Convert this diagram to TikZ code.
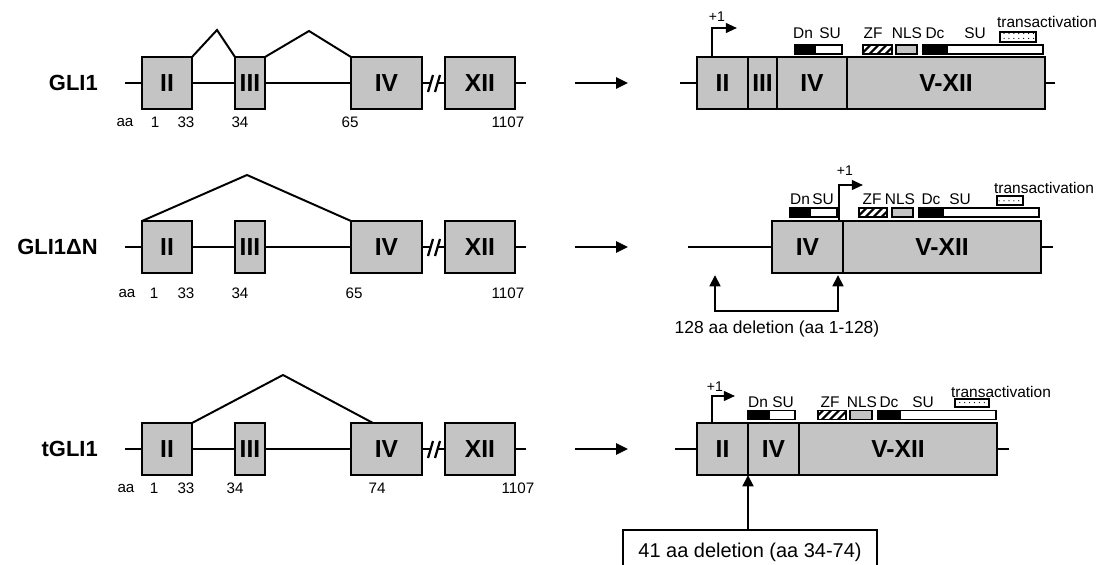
\documentclass[tikz,border=0pt]{standalone}
\usepackage{fontspec}
\setmainfont{Liberation Sans}
\usetikzlibrary{positioning,arrows.meta,patterns.meta}
\newcommand{\px}{0.025cm}
\definecolor{exongray}{RGB}{196,196,196}
\tikzset{
  geneline/.style={line width=1.4pt},
  splice/.style={line width=1.4pt, line join=miter},
  exon/.style={draw, line width=1.6pt, fill=exongray, inner sep=0pt, outer sep=0pt, minimum height=52*\px, font=\fontsize{17.5}{20}\selectfont\bfseries},
  genename/.style={anchor=east, inner sep=0pt, font=\fontsize{15.6}{18}\selectfont\bfseries},
  aalabel/.style={inner sep=0pt, font=\fontsize{10.8}{12}\selectfont},
  dombar/.style={draw, line width=1.1pt, inner sep=0pt, outer sep=0pt, minimum height=9*\px},
  dnbar/.style={dombar, fill=black},
  subar/.style={dombar, fill=white},
  zfbar/.style={dombar, pattern={Lines[angle=45,distance=4pt,line width=1.6pt]}},
  nlsbar/.style={dombar, fill=exongray},
  tabar/.style={dombar, pattern={Dots[distance=3.5pt,radius=0.45pt]}},
  domlabel/.style={inner sep=0pt, font=\fontsize{11}{12}\selectfont},
  talabel/.style={inner sep=0pt, font=\fontsize{11}{12}\selectfont},
  startlabel/.style={inner sep=0pt, font=\fontsize{10}{11}\selectfont},
  flowarrow/.style={-{Triangle[length=8.5pt,width=8pt]}, line width=1.4pt},
  startarrow/.style={-{Triangle[length=8pt,width=7pt]}, line width=1.4pt},
  delarrow/.style={line width=2pt, line join=miter},
  deltip/.tip={Triangle[length=8pt,width=7.5pt]},
  delbox/.style={draw, line width=1.5pt, fill=white, inner sep=0pt, font=\fontsize{14.2}{17}\selectfont}
}
\begin{document}
\begin{tikzpicture}[x=\px, y=-\px]
  \useasboundingbox (0,0) rectangle (1100,565);
  \begin{scope}
  \clip (0,0) rectangle (1100,565);

  % ---- GLI1 gene
  \node[genename] (nameA) at (98,83) {GLI1};
  \coordinate (gsA) at (125,83);
  \node[exon, minimum width=50*\px] (exIIa) at (167,83) {II};
  \node[exon, minimum width=30*\px] (exIIIa) at (250,83) {III};
  \node[exon, minimum width=71*\px] (exIVa) at (386.5,83) {IV};
  \node[exon, minimum width=70*\px] (exXIIa) at (480,83) {XII};
  \coordinate (geA) at (526,83);
  \coordinate (bkA1) at (430,83);
  \coordinate (bkA2) at (437,83);
  \draw[geneline] (gsA) -- (exIIa) -- (exIIIa) -- (exIVa) -- (bkA1);
  \draw[geneline] (bkA2) -- (exXIIa) -- (geA);
  \draw[line width=1.6pt] (428,92) -- (433,75) (435,92) -- (440,75);
  \coordinate (pkA1) at (217,30);
  \coordinate (pkA2) at (309,31);
  \draw[splice] (exIIa.north east) -- (pkA1) -- (exIIIa.north west);
  \draw[splice] (exIIIa.north east) -- (pkA2) -- (exIVa.north west);
  \foreach \x/\t [count=\i] in {125/aa,155/1,186/33,240/34,350/65,508/1107}
    \node[aalabel] (aaA\i) at (\x,122) {\t};

  % ---- GLI1dN gene
  \node[genename] (nameB) at (98,247) {GLI1ΔN};
  \coordinate (gsB) at (125,247);
  \node[exon, minimum width=50*\px] (exIIb) at (167,247) {II};
  \node[exon, minimum width=30*\px] (exIIIb) at (250,247) {III};
  \node[exon, minimum width=71*\px] (exIVb) at (386.5,247) {IV};
  \node[exon, minimum width=70*\px] (exXIIb) at (480,247) {XII};
  \coordinate (geB) at (526,247);
  \coordinate (bkB1) at (430,247);
  \coordinate (bkB2) at (437,247);
  \draw[geneline] (gsB) -- (exIIb) -- (exIIIb) -- (exIVb) -- (bkB1);
  \draw[geneline] (bkB2) -- (exXIIb) -- (geB);
  \draw[line width=1.6pt] (428,256) -- (433,239) (435,256) -- (440,239);
  \coordinate (pkB) at (247,175);
  \draw[splice] (exIIb.north west) -- (pkB) -- (exIVb.north west);
  \foreach \x/\t [count=\i] in {127/aa,154/1,186/33,240/34,354/65,508/1107}
    \node[aalabel] (aaB\i) at (\x,293) {\t};

  % ---- tGLI1 gene
  \node[genename] (nameC) at (98,449) {tGLI1};
  \coordinate (gsC) at (125,449);
  \node[exon, minimum width=50*\px] (exIIc) at (167,449) {II};
  \node[exon, minimum width=30*\px] (exIIIc) at (250,449) {III};
  \node[exon, minimum width=71*\px] (exIVc) at (386.5,449) {IV};
  \node[exon, minimum width=70*\px] (exXIIc) at (480,449) {XII};
  \coordinate (geC) at (526,449);
  \coordinate (bkC1) at (430,449);
  \coordinate (bkC2) at (437,449);
  \draw[geneline] (gsC) -- (exIIc) -- (exIIIc) -- (exIVc) -- (bkC1);
  \draw[geneline] (bkC2) -- (exXIIc) -- (geC);
  \draw[line width=1.6pt] (428,458) -- (433,441) (435,458) -- (440,441);
  \coordinate (pkC) at (283,375);
  \coordinate (spC) at (373,423);
  \draw[splice] (exIIc.north east) -- (pkC) -- (spC);
  \foreach \x/\t [count=\i] in {126/aa,154/1,186/33,235/34,377/74,518/1107}
    \node[aalabel] (aaC\i) at (\x,488) {\t};

  % ---- arrows to the proteins
  \foreach \r/\y in {A/83,B/247,C/449} {
    \coordinate (mvs\r) at (575,\y);
    \coordinate (mve\r) at (628,\y);
    \draw[flowarrow] (mvs\r) -- (mve\r);
  }

  % ---- GLI1 protein
  \coordinate (lnA1) at (680,83);
  \node[exon, minimum width=51*\px] (pIIa) at (722.5,83) {II};
  \node[exon, minimum width=29*\px, right=0pt of pIIa] (pIIIa) {III};
  \node[exon, minimum width=70*\px, right=0pt of pIIIa] (pIVa) {IV};
  \node[exon, minimum width=198*\px, right=0pt of pIVa] (pVXIIa) {V-XII};
  \coordinate (lnA2) at (1055,83);
  \draw[geneline] (lnA1) -- (pIIa);
  \draw[geneline] (pVXIIa) -- (lnA2);
  \coordinate (tsA) at (712,57);
  \coordinate (teA) at (737,28);
  \draw[startarrow] (tsA) |- (teA);
  \node[startlabel] (plA) at (717,17) {+1};
  \foreach \xa/\xb/\sty [count=\i] in {795/815/dnbar,815/842/subar,863/892/zfbar,896/917/nlsbar,923/947/dnbar,947/1043/subar}
    \node[\sty, minimum width=(\xb-\xa)*\px] (barA\i) at ({(\xa+\xb)/2},49.5) {};
  \node[tabar, minimum width=36*\px, minimum height=10*\px] (taA) at (1018,37) {};
  \foreach \x/\t [count=\i] in {803/Dn,830/SU,873/ZF,907/NLS,935/Dc,975/SU}
    \node[domlabel] (dlA\i) at (\x,33) {\t};
  \node[talabel] (tlA) at (1047,22) {transactivation};

  % ---- GLI1dN protein
  \coordinate (lnB1) at (688,247);
  \node[exon, minimum width=71*\px] (pIVb) at (807.5,247) {IV};
  \node[exon, minimum width=198*\px, right=0pt of pIVb] (pVXIIb) {V-XII};
  \coordinate (lnB2) at (1053,247);
  \draw[geneline] (lnB1) -- (pIVb);
  \draw[geneline] (pVXIIb) -- (lnB2);
  \coordinate (tsB) at (839,221);
  \coordinate (teB) at (863,185);
  \draw[startarrow] (tsB) |- (teB);
  \node[startlabel] (plB) at (845,171) {+1};
  \foreach \xa/\xb/\sty [count=\i] in {790/810/dnbar,810/837/subar,859/887/zfbar,892/913/nlsbar,919/943/dnbar,943/1039/subar}
    \node[\sty, minimum width=(\xb-\xa)*\px] (barB\i) at ({(\xa+\xb)/2},212.5) {};
  \node[tabar, minimum width=26*\px, minimum height=9*\px] (taB) at (1010,200.5) {};
  \foreach \x/\t [count=\i] in {800/Dn,823/SU,872/ZF,900/NLS,931/Dc,960/SU}
    \node[domlabel] (dlB\i) at (\x,199) {\t};
  \node[talabel] (tlB) at (1044,188) {transactivation};
  % deletion of the N-terminus
  \coordinate (dtB1) at (715,275);
  \coordinate (dcB1) at (715,311);
  \coordinate (dcB2) at (838,311);
  \coordinate (dtB2) at (838,275);
  \draw[delarrow, deltip-deltip] (dtB1) -- (dcB1) -- (dcB2) -- (dtB2);
  \node[inner sep=0pt, font=\fontsize{12.4}{15}\selectfont] (delB) at (777,329) {128 aa deletion (aa 1-128)};

  % ---- tGLI1 protein
  \coordinate (lnC1) at (675,449);
  \node[exon, minimum width=51*\px] (pIIc) at (722.5,449) {II};
  \node[exon, minimum width=51*\px, right=0pt of pIIc] (pIVc) {IV};
  \node[exon, minimum width=198*\px, right=0pt of pIVc] (pVXIIc) {V-XII};
  \coordinate (lnC2) at (1009,449);
  \draw[geneline] (lnC1) -- (pIIc);
  \draw[geneline] (pVXIIc) -- (lnC2);
  \coordinate (tsC) at (712,423);
  \coordinate (teC) at (735,396);
  \draw[startarrow] (tsC) |- (teC);
  \node[startlabel] (plC) at (715,387) {+1};
  \foreach \xa/\xb/\sty [count=\i] in {748/769/dnbar,769/795/subar,818/846/zfbar,850/872/nlsbar,878/900/dnbar,900/996/subar}
    \node[\sty, minimum width=(\xb-\xa)*\px] (barC\i) at ({(\xa+\xb)/2},415) {};
  \node[tabar, minimum width=34*\px, minimum height=8*\px] (taC) at (972,403) {};
  \foreach \x/\t [count=\i] in {758/Dn,783/SU,830/ZF,862/NLS,889/Dc,923/SU}
    \node[domlabel] (dlC\i) at (\x,402) {\t};
  \node[talabel] (tlC) at (1001,392) {transactivation};
  % deletion of exon III
  \node[delbox, minimum width=254*\px, minimum height=44*\px] (delC) at (750,552) {41 aa deletion (aa 34-74)};
  \draw[delarrow, -deltip] (delC.north -| pIIc.south east) -- (pIIc.south east);
  \end{scope}
\end{tikzpicture}
\end{document}
